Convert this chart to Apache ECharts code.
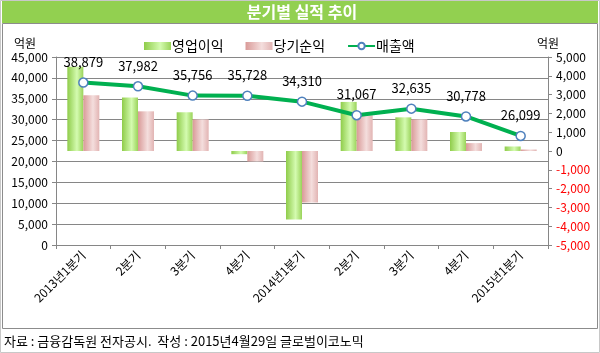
<!DOCTYPE html>
<html><head><meta charset="utf-8">
<script src="https://cdn.jsdelivr.net/npm/echarts@6/dist/echarts.min.js"></script>
<style>html,body{margin:0;padding:0;background:#fff}#c{width:600px;height:353px}</style>
</head><body><div id="c"></div>
<script>
const categories = ['2013년1분기','2분기','3분기','4분기','2014년1분기','2분기','3분기','4분기','2015년1분기'];
const opProfit = [4480, 2845, 2060, -170, -3650, 2610, 1790, 1010, 240];
const netProfit = [2970, 2110, 1685, -560, -2740, 1900, 1685, 420, 80];
const sales = [38879, 37982, 35756, 35728, 34310, 31067, 32635, 30778, 26099];
const FONT = '"Noto Sans CJK KR", sans-serif';
const fmt = v => Number(v).toLocaleString('en-US');
const chart = echarts.init(document.getElementById('c'));
chart.setOption({
  animation: false,
  textStyle: {fontFamily: FONT},
  graphic: [
    {type:'rect', shape:{x:0.5,y:0.5,width:599,height:352}, style:{fill:'none', stroke:'#c8c8c8', lineWidth:1}, z:-1},
    {type:'rect', shape:{x:2,y:1,width:596,height:22}, style:{fill:'#92D050'}},
    {type:'rect', shape:{x:2.5,y:23.5,width:595,height:305}, style:{fill:'none', stroke:'#8c8c8c', lineWidth:1}},
    {type:'text', x:302, y:12, style:{text:'분기별 실적 추이', fill:'#fff', font:'bold 16px '+FONT, align:'center', verticalAlign:'middle'}},
    {type:'text', x:25, y:43, style:{text:'억원', fill:'#000', font:'12px '+FONT, align:'center', verticalAlign:'middle'}},
    {type:'text', x:548, y:43, style:{text:'억원', fill:'#000', font:'12px '+FONT, align:'center', verticalAlign:'middle'}},
    {type:'text', x:4, y:341, style:{text:'자료 : 금융감독원 전자공시.  작성 : 2015년4월29일 글로벌이코노믹', fill:'#000', font:'13px '+FONT, verticalAlign:'middle'}}
  ],
  legend: {
    top: 34, left: 139, itemGap: 22, itemWidth: 27, itemHeight: 8,
    textStyle: {fontSize: 14, color:'#000', fontFamily: FONT, padding:[0,0,0,-4]},
    data: [
      {name:'영업이익', icon:'rect'},
      {name:'당기순익', icon:'rect'},
      {name:'매출액'}
    ]
  },
  grid: {left: 56, right: 52, top: 57, bottom: 108},
  xAxis: {
    type: 'category', data: categories, boundaryGap: true,
    axisLine: {lineStyle:{color:'#868686'}},
    axisTick: {show:true, length:4, lineStyle:{color:'#868686'}},
    axisLabel: {rotate:45, fontSize:12, color:'#000', margin:8, interval:0}
  },
  yAxis: [
    {type:'value', min:0, max:45000, interval:5000,
     axisLine:{show:true, lineStyle:{color:'#868686'}},
     axisTick:{show:true, length:4, lineStyle:{color:'#868686'}},
     splitLine:{lineStyle:{color:'#868686'}},
     axisLabel:{formatter: fmt, color:'#000', fontSize:12, margin:8}},
    {type:'value', min:-5000, max:5000, interval:1000, position:'right',
     axisLine:{show:true, lineStyle:{color:'#868686'}},
     axisTick:{show:true, length:4, lineStyle:{color:'#868686'}},
     splitLine:{show:false},
     axisLabel:{formatter: fmt, fontSize:12, margin:8, color: v => (v < 0 ? '#ff0000' : '#000')}}
  ],
  series: [
    {name:'영업이익', type:'bar', yAxisIndex:1, data: opProfit, barWidth:16, barGap:'0%',
     itemStyle:{color: new echarts.graphic.LinearGradient(0,0,1,0,[
       {offset:0,color:'#8fcc4a'},{offset:0.6,color:'#d4fbb0'},{offset:1,color:'#9ad35a'}])}},
    {name:'당기순익', type:'bar', yAxisIndex:1, data: netProfit, barWidth:16, barGap:'0%',
     itemStyle:{color: new echarts.graphic.LinearGradient(0,0,1,0,[
       {offset:0,color:'#d99a98'},{offset:0.6,color:'#f4dedd'},{offset:1,color:'#e2b4b3'}])}},
    {name:'매출액', type:'line', yAxisIndex:0, data: sales, z:5,
     lineStyle:{color:'#00B050', width:4},
     symbol:'circle', symbolSize:9,
     itemStyle:{color:'#ffffff', borderColor:'#4F81BD', borderWidth:1.5},
     label:{show:true, position:'top', distance:9, formatter: p => fmt(p.value), color:'#000', fontSize:13, fontFamily: FONT}}
  ]
});
</script></body></html>
